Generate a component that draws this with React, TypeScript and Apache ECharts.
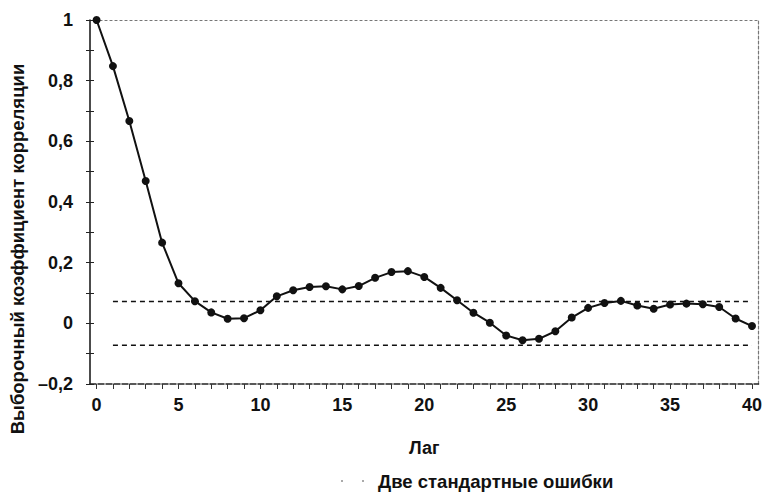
import React, { useEffect, useRef } from "react";
import * as echarts from "echarts";

// Lags on the horizontal axis
const lags = [
  0, 1, 2, 3, 4, 5, 6, 7, 8, 9, 10, 11, 12, 13, 14, 15, 16, 17, 18, 19, 20,
  21, 22, 23, 24, 25, 26, 27, 28, 29, 30, 31, 32, 33, 34, 35, 36, 37, 38, 39, 40,
];

// Sample autocorrelation coefficient for each lag
const acf = [
  1.0, 0.848, 0.667, 0.469, 0.266, 0.132, 0.073, 0.036, 0.015, 0.017, 0.043,
  0.089, 0.109, 0.12, 0.122, 0.112, 0.123, 0.15, 0.169, 0.172, 0.153, 0.117,
  0.076, 0.035, 0.002, -0.04, -0.056, -0.051, -0.026, 0.019, 0.051, 0.067,
  0.074, 0.059, 0.048, 0.062, 0.065, 0.063, 0.054, 0.016, -0.009,
];

// Two standard errors band
const twoSE = 0.072;
const bandLags = [1, 40];

const xLabelTicks = [0, 5, 10, 15, 20, 25, 30, 35, 40];
const yLabelTicks = [-0.2, 0, 0.2, 0.4, 0.6, 0.8, 1];

const bandName = "Две стандартные ошибки";
const xName = "Лаг";
const yName = "Выборочный коэффициент корреляции";

const FONT = "'Liberation Sans', Arial, sans-serif";

const fmt = (v: number) => {
  const r = Math.round(v * 10) / 10;
  if (r === 0) return "0";
  const s = String(Math.abs(r)).replace(".", ",");
  return r < 0 ? "\u2013" + s : s;
};

export default function App() {
  const ref = useRef<HTMLDivElement>(null);

  useEffect(() => {
    if (!ref.current) return;
    const chart = echarts.init(ref.current, undefined, { renderer: "svg" });

    const yCommon = { type: "value", min: -0.2, max: 1, interval: 0.1 };

    chart.setOption({
      animation: false,
      backgroundColor: "#ffffff",
      textStyle: { fontFamily: FONT },
      grid: { left: 90, right: 5, top: 20, bottom: 108 },
      xAxis: [
        {
          type: "value",
          min: -0.4,
          max: 40.4,
          position: "bottom",
          name: xName,
          nameLocation: "middle",
          nameGap: 55,
          nameTextStyle: { fontSize: 18, fontWeight: "bold", color: "#111", fontFamily: FONT },
          splitLine: { show: false },
          axisLine: { onZero: false, lineStyle: { color: "#222", width: 1.5, type: [6, 2] } },
          axisTick: {
            customValues: lags,
            length: 5,
            lineStyle: { color: "#333", width: 1 },
          },
          axisLabel: {
            customValues: xLabelTicks,
            fontSize: 18,
            fontWeight: "bold",
            color: "#111",
            margin: 12,
            fontFamily: FONT,
          },
        },
        {
          type: "value",
          min: -0.4,
          max: 40.4,
          position: "top",
          splitLine: { show: false },
          axisLine: { show: true, onZero: false, lineStyle: { color: "#777", width: 1.2, type: [2, 3] } },
          axisTick: { show: false },
          axisLabel: { show: false },
        },
      ],
      yAxis: [
        {
          ...yCommon,
          position: "left",
          splitLine: { show: false },
          axisLine: { show: true, onZero: false, lineStyle: { color: "#111", width: 1.5 } },
          axisTick: { show: true, length: 4, lineStyle: { color: "#222" } },
          axisLabel: {
            customValues: yLabelTicks,
            formatter: (v: number) => fmt(v),
            fontSize: 18,
            fontWeight: "bold",
            color: "#111",
            margin: 17,
            fontFamily: FONT,
          },
        },
        {
          ...yCommon,
          position: "left",
          splitLine: { show: false },
          axisLine: { show: false, onZero: false },
          axisTick: { show: true, inside: true, length: 4, lineStyle: { color: "#222" } },
          axisLabel: { show: false },
        },
        {
          ...yCommon,
          position: "right",
          splitLine: { show: false },
          axisLine: { show: true, onZero: false, lineStyle: { color: "#777", width: 1.2, type: [3, 2] } },
          axisTick: { show: false },
          axisLabel: { show: false },
        },
      ],
      graphic: [
        {
          type: "text",
          x: 17,
          y: 249,
          rotation: Math.PI / 2,
          style: {
            text: yName,
            fontSize: 18.5,
            fontWeight: "bold",
            fill: "#111",
            fontFamily: FONT,
            align: "center",
            verticalAlign: "middle",
          },
        },
        {
          // legend key: faint dotted sample of the band line
          type: "line",
          shape: { x1: 341, y1: 481, x2: 366, y2: 481 },
          style: { stroke: "#aaa", lineWidth: 2, lineDash: [2, 19] },
        },
        {
          type: "text",
          x: 378,
          y: 481,
          style: {
            text: bandName,
            fontSize: 18.5,
            fontWeight: "bold",
            fill: "#111",
            fontFamily: FONT,
            align: "left",
            verticalAlign: "middle",
          },
        },
      ],
      series: [
        {
          name: "acf",
          type: "line",
          data: lags.map((l, i) => [l, acf[i]]),
          symbol: "circle",
          symbolSize: 8,
          lineStyle: { color: "#111", width: 2 },
          itemStyle: { color: "#111" },
          z: 5,
        },
        {
          name: bandName,
          type: "line",
          data: bandLags.map((l) => [l, twoSE]),
          symbol: "none",
          lineStyle: { color: "#111", width: 1.5, type: [5, 4] },
          itemStyle: { color: "#111" },
        },
        {
          name: bandName,
          type: "line",
          data: bandLags.map((l) => [l, -twoSE]),
          symbol: "none",
          lineStyle: { color: "#111", width: 1.5, type: [5, 4] },
          itemStyle: { color: "#111" },
        },
      ],
    });

    return () => chart.dispose();
  }, []);

  return (
    <div
      ref={ref}
      style={{ position: "fixed", left: 0, top: 0, width: 765, height: 492 }}
    />
  );
}
